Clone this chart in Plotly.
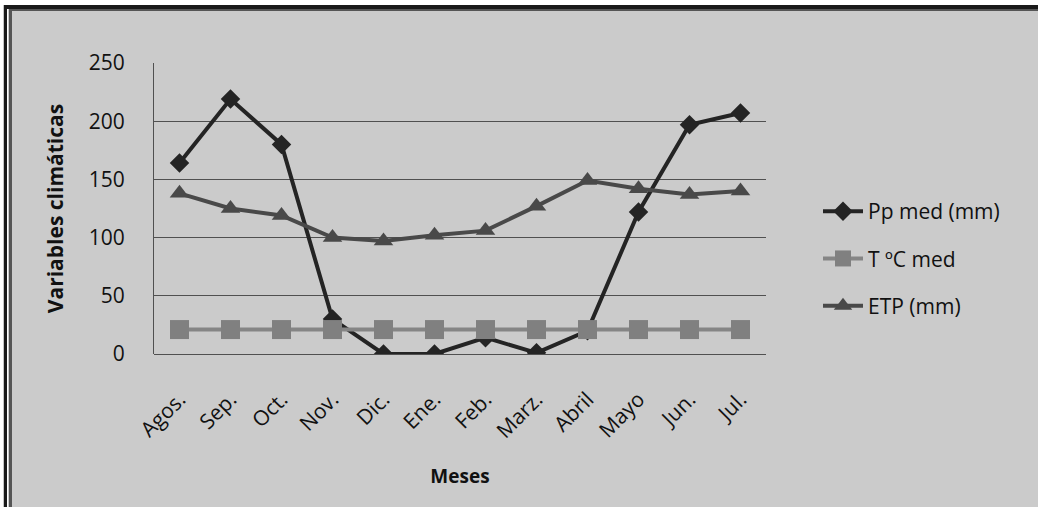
import plotly.graph_objects as go

# Monthly climate variables
meses = ["Agos.", "Sep.", "Oct.", "Nov.", "Dic.", "Ene.", "Feb.", "Marz.", "Abril", "Mayo", "Jun.", "Jul."]
pp_med = [164, 219, 180, 30, 0, 0, 14, 1, 20, 122, 197, 207]
t_med = [21, 21, 21, 21, 21, 21, 21, 21, 21, 21, 21, 21]
etp = [138, 125, 119, 100, 97, 102, 106, 127, 149, 142, 137, 140]
y_ticks = [0, 50, 100, 150, 200, 250]

W, H = 1038, 507
L, R, T, B = 154, 272, 63, 153
PW, PH = W - L - R, H - T - B

FONT = "Open Sans"
TXT = "#111111"


def px(x):
    return (x - L) / PW


def py(y):
    return (H - B - y) / PH


fig = go.Figure()

fig.add_trace(go.Scatter(
    x=meses, y=pp_med, name="Pp med (mm)", mode="lines+markers",
    line=dict(color="#242424", width=4),
    marker=dict(symbol="diamond", size=15, color="#242424"),
    legendgroup="a",
))
fig.add_trace(go.Scatter(
    x=meses, y=t_med, name="T ºC med", mode="lines+markers",
    line=dict(color="#858585", width=4),
    marker=dict(symbol="square", size=19, color="#808080"),
    legendgroup="b",
))
fig.add_trace(go.Scatter(
    x=meses, y=etp, name="ETP (mm)", mode="lines+markers",
    line=dict(color="#494949", width=4),
    marker=dict(symbol="triangle-up", size=17, color="#494949"),
    legendgroup="c",
))

# Frame around the chart
shapes = [
    dict(type="rect", xref="paper", yref="paper", x0=px(4), x1=px(W + 5), y0=py(H + 5), y1=py(5),
         fillcolor="#cbcbcb", line=dict(width=0), layer="below"),
    dict(type="line", xref="paper", yref="paper", x0=px(5.5), x1=px(5.5), y0=py(5), y1=py(H + 5),
         line=dict(color="#1a1a1a", width=3.5)),
    dict(type="line", xref="paper", yref="paper", x0=px(7.5), x1=px(7.5), y0=py(9), y1=py(H + 5),
         line=dict(color="#ffffff", width=1)),
    dict(type="line", xref="paper", yref="paper", x0=px(10.5), x1=px(10.5), y0=py(9), y1=py(H + 5),
         line=dict(color="#555555", width=3)),
    dict(type="line", xref="paper", yref="paper", x0=px(4), x1=px(W + 5), y0=py(7), y1=py(7),
         line=dict(color="#1a1a1a", width=4)),
    dict(type="line", xref="paper", yref="paper", x0=px(9), x1=px(W + 5), y0=py(10), y1=py(10),
         line=dict(color="#555555", width=2)),
]

fig.update_layout(
    width=W, height=H,
    margin=dict(l=L, r=R, t=T, b=B),
    paper_bgcolor="#ffffff",
    plot_bgcolor="#cbcbcb",
    font=dict(family=FONT, color=TXT),
    shapes=shapes,
    showlegend=True,
    legend=dict(
        x=px(818), xanchor="left", y=py(191), yanchor="top",
        bgcolor="rgba(0,0,0,0)",
        font=dict(family=FONT, size=21, color=TXT),
        tracegroupgap=17,
        itemwidth=40,
    ),
    xaxis=dict(
        type="category",
        categoryorder="array", categoryarray=meses,
        tickangle=-45,
        tickfont=dict(family=FONT, size=21, color=TXT),
        showgrid=False,
        showline=False,
        ticks="",
        ticklabelstandoff=28,
        title=dict(text="<b>Meses</b>", font=dict(family=FONT, size=19, color=TXT), standoff=26),
        range=[-0.5, 11.5],
    ),
    yaxis=dict(
        range=[0, 250],
        tickvals=y_ticks,
        tickfont=dict(family=FONT, size=21, color=TXT),
        showgrid=True, gridcolor="#505050", gridwidth=1,
        showline=True, linecolor="#505050", linewidth=1,
        zeroline=True, zerolinecolor="#505050", zerolinewidth=1,
        ticks="",
        ticklabelstandoff=24,
        title=dict(text="<b>Variables climáticas</b>", font=dict(family=FONT, size=21, color=TXT), standoff=19),
    ),
)

fig.write_html("out.html")
